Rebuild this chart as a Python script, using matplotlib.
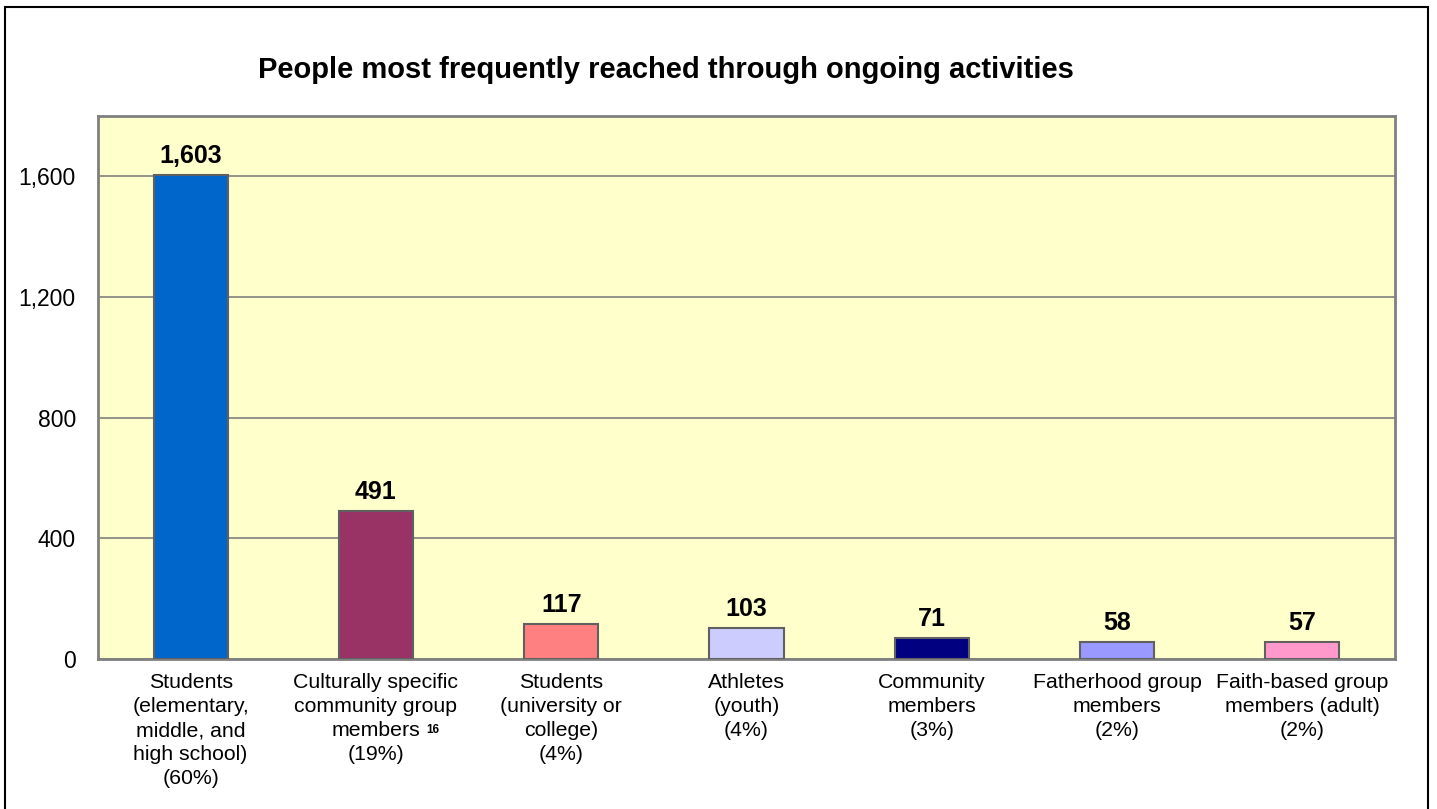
import matplotlib.pyplot as plt
from matplotlib.patches import Rectangle

plt.rcParams['font.family'] = ['Liberation Sans', 'DejaVu Sans']

categories = [
    "Students\n(elementary,\nmiddle, and\nhigh school)\n(60%)",
    "Culturally specific\ncommunity group\nmembers\n(19%)",
    "Students\n(university or\ncollege)\n(4%)",
    "Athletes\n(youth)\n(4%)",
    "Community\nmembers\n(3%)",
    "Fatherhood group\nmembers\n(2%)",
    "Faith-based group\nmembers (adult)\n(2%)",
]
values = [1603, 491, 117, 103, 71, 58, 57]
colors = ["#0066CC", "#993366", "#FF8080", "#CCCCFF", "#000080", "#9999FF", "#FF99CC"]
yticks = [0, 400, 800, 1200, 1600]
footnote = "16"

fig = plt.figure(figsize=(14.37, 8.09), dpi=100)
ax = fig.add_axes([0.0682, 0.1854, 0.9026, 0.6712])
ax.set_facecolor("#FFFFCC")

x = range(len(values))
bars = ax.bar(x, values, width=0.4, color=colors, edgecolor="#606060", linewidth=1.5, zorder=3)
for rect, v in zip(bars, values):
    ax.annotate(f"{v:,}", (rect.get_x() + rect.get_width() / 2, v),
                xytext=(0, 5), textcoords="offset points",
                ha="center", va="bottom", fontsize=18, fontweight="bold")

ax.set_xlim(-0.5, len(values) - 0.5)
ax.set_ylim(0, 1800)
ax.set_yticks(yticks)
ax.set_yticklabels([f"{t:,}" for t in yticks], fontsize=16.5)
ax.set_xticks(list(x))
ax.set_xticklabels(categories, fontsize=15.3, va="top", linespacing=1.34)
ax.tick_params(axis="both", length=0)
ax.tick_params(axis="y", pad=16)
ax.tick_params(axis="x", pad=10)
ax.grid(axis="y", color="#808080", linewidth=1.2, zorder=1)
for s in ax.spines.values():
    s.set_color("#808080")
    s.set_linewidth(2)

# footnote marker after "members" in the second label
ax.annotate(footnote, xy=(1, 0), xycoords=("data", "axes fraction"),
            xytext=(50, -71), textcoords="offset pixels",
            ha="left", va="center", fontsize=8.5, fontweight="bold")

fig.text(666 / 1437, 1 - 70 / 809, "People most frequently reached through ongoing activities",
         ha="center", va="center", fontsize=21, fontweight="bold")

fig.patches.append(Rectangle((5 / 1437, -0.01), 1423 / 1437, 1 - 7 / 809 + 0.01,
                             transform=fig.transFigure, fill=False,
                             edgecolor="black", linewidth=1.5))

fig.savefig("out.png", dpi=100)
